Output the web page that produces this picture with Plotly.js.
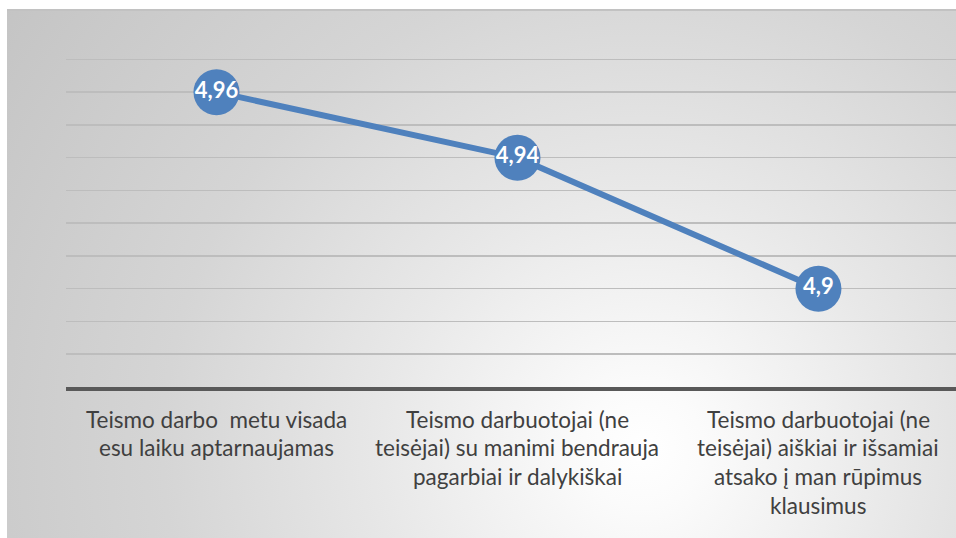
<!DOCTYPE html>
<html>
<head>
<meta charset="utf-8">
<script src="https://cdn.plot.ly/plotly-3.0.1.min.js"></script>
<style>
  html, body { margin: 0; padding: 0; background: #ffffff; }
  #bg {
    position: absolute; left: 7px; top: 9px; width: 949px; height: 529px;
    border-top: 2px solid #c2c2c2; box-sizing: border-box;
    background: radial-gradient(circle at 67% 83%, #ffffff 0px, #fbfbfb 60px, #e8e8e8 260px, #d5d5d5 480px, #c4c4c4 780px);
  }
  #chart { position: absolute; left: 0; top: 0; width: 956px; height: 538px; }
</style>
</head>
<body>
<div id="bg"></div>
<div id="chart"></div>
<script>
// ---- data ----
const categories = [
  "Teismo darbo  metu visada<br>esu laiku aptarnaujamas",
  "Teismo darbuotojai (ne<br>teisėjai) su manimi bendrauja<br>pagarbiai ir dalykiškai",
  "Teismo darbuotojai (ne<br>teisėjai) aiškiai ir išsamiai<br>atsako į man rūpimus<br>klausimus"
];
const values = [4.96, 4.94, 4.9];
const valueLabels = values.map(v => String(v).replace('.', ','));
const yRange = [4.87, 4.975];
const gridTicks = [4.87, 4.88, 4.89, 4.90, 4.91, 4.92, 4.93, 4.94, 4.95, 4.96, 4.97];

// ---- chart ----
const blue = '#4f81bd';
const trace = {
  type: 'scatter',
  mode: 'lines+markers+text',
  x: categories,
  y: values,
  text: valueLabels,
  textposition: 'middle center',
  textfont: { family: 'Lato, "Open Sans", sans-serif', size: 22, color: '#ffffff', weight: 'bold' },
  line: { color: blue, width: 6 },
  marker: { color: blue, size: 46, line: { width: 0 } },
  hoverinfo: 'skip',
  cliponaxis: false
};

// category labels drawn line by line (line spacing as in the reference)
const annotations = [];
categories.forEach((cat, ci) => {
  cat.split('<br>').forEach((ln, li) => {
    annotations.push({
      x: cat, xref: 'x', y: 0, yref: 'paper',
      text: ln, showarrow: false,
      xanchor: 'center', yanchor: 'middle',
      yshift: -(32 + li * 28.8),
      font: { family: 'Lato, "Open Sans", sans-serif', size: 22.5, color: '#404040' }
    });
  });
});

const layout = {
  width: 956, height: 538,
  margin: { l: 66, r: 0, t: 42.6, b: 151 },
  paper_bgcolor: 'rgba(0,0,0,0)',
  plot_bgcolor: 'rgba(0,0,0,0)',
  showlegend: false,
  separators: ', ',
  xaxis: {
    type: 'category',
    range: [-0.5, 2.457],
    showgrid: false, zeroline: false,
    showticklabels: false, ticks: '',
    showline: true, linecolor: '#595959', linewidth: 4,
    fixedrange: true
  },
  yaxis: {
    range: yRange,
    tickmode: 'array', tickvals: gridTicks,
    showticklabels: false, ticks: '',
    showgrid: true, gridcolor: '#bdbdbd', gridwidth: 1.5,
    zeroline: false, showline: false,
    fixedrange: true
  },
  annotations: annotations
};

Plotly.newPlot('chart', [trace], layout, { displayModeBar: false, staticPlot: true });
</script>
</body>
</html>
